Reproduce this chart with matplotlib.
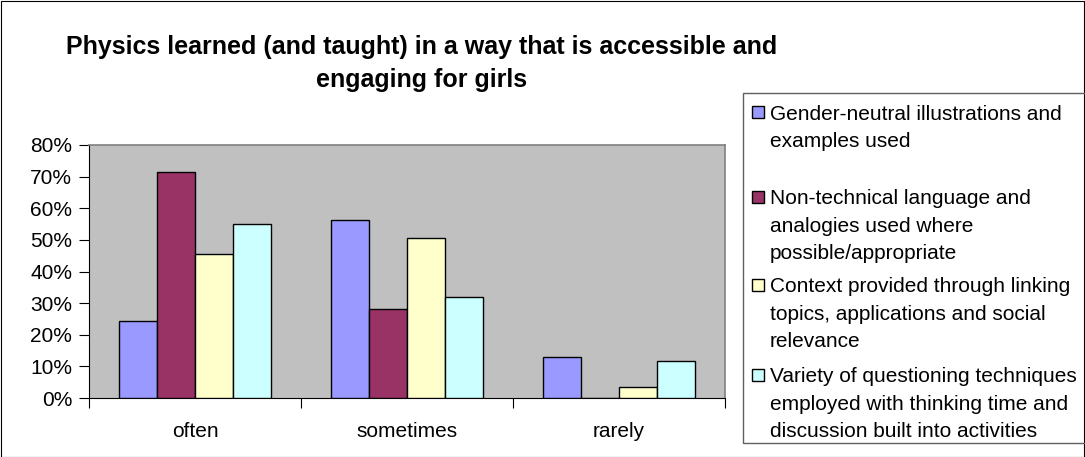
import matplotlib.pyplot as plt
import matplotlib.patches as mpatches
import numpy as np

plt.rcParams['font.family'] = ['Liberation Sans', 'DejaVu Sans']

categories = ["often", "sometimes", "rarely"]
series_names = [
    ["Gender-neutral illustrations and", "examples used"],
    ["Non-technical language and", "analogies used where", "possible/appropriate"],
    ["Context provided through linking", "topics, applications and social", "relevance"],
    ["Variety of questioning techniques", "employed with thinking time and",
     "discussion built into activities"],
]
gender_neutral = [24.5, 56.4, 13.1]
non_technical = [71.6, 28.2, 0.0]
context = [45.4, 50.7, 3.6]
questioning = [54.9, 31.9, 11.6]
y_ticks = [0, 10, 20, 30, 40, 50, 60, 70, 80]
colors = ["#9999FF", "#993366", "#FFFFCC", "#CCFFFF"]

W, H = 1085, 457
fig = plt.figure(figsize=(W / 100, H / 100), dpi=100)
fig.patch.set_facecolor("white")
# outer chart border
fig.patches.append(mpatches.Rectangle((0.5 / W, 0.5 / H), 1 - 1.5 / W, 1 - 1.5 / H,
                                      transform=fig.transFigure, fill=False,
                                      edgecolor="black", linewidth=0.8))

ax = fig.add_axes([89 / W, 1 - 398 / H, 636 / W, 253 / H])
ax.set_facecolor("#C0C0C0")

x = np.arange(len(categories))
bw = 0.18
all_series = [gender_neutral, non_technical, context, questioning]
for i, vals in enumerate(all_series):
    ax.bar(x + (i - 1.5) * bw, vals, bw, color=colors[i],
           edgecolor="black", linewidth=1.0, zorder=3)

ax.set_xlim(-0.5, 2.5)
ax.set_ylim(0, 80)
ax.set_yticks(y_ticks)
ax.set_yticklabels([f"{t}%" for t in y_ticks], fontsize=15)
ax.set_xticks([-0.5, 0.5, 1.5, 2.5])
ax.set_xticklabels([])
ax.set_xticks(x, minor=True)
ax.set_xticklabels(categories, minor=True, fontsize=15)
ax.tick_params(axis="x", which="minor", length=0, pad=17)
ax.tick_params(axis="x", which="major", length=7, direction="out")
ax.tick_params(axis="y", length=7, direction="out", pad=5)
for s in ["top", "right"]:
    ax.spines[s].set_color("#808080")
    ax.spines[s].set_linewidth(1.2)
for s in ["left", "bottom"]:
    ax.spines[s].set_color("black")

fig.text(422 / W, 1 - 47 / H,
         "Physics learned (and taught) in a way that is accessible and",
         ha="center", va="center", fontsize=18, fontweight="bold")
fig.text(422 / W, 1 - 80 / H, "engaging for girls",
         ha="center", va="center", fontsize=18, fontweight="bold")

# legend box, drawn by hand to match the uneven spacing
fig.patches.append(mpatches.Rectangle((743 / W, 1 - 443 / H), (W + 5 - 743) / W, 350 / H,
                                      transform=fig.transFigure, fill=False,
                                      edgecolor="#606060", linewidth=1.0, clip_on=False))
entry_tops = [112, 197, 285, 375]
pitch = 27.3
for i, lines in enumerate(series_names):
    y0 = entry_tops[i]
    fig.patches.append(mpatches.Rectangle((752 / W, 1 - (y0 + 6) / H), 12 / W, 12 / H,
                                          transform=fig.transFigure, facecolor=colors[i],
                                          edgecolor="black", linewidth=1.0))
    for j, line in enumerate(lines):
        fig.text(770 / W, 1 - (y0 + j * pitch) / H, line,
                 ha="left", va="center_baseline", fontsize=15)

fig.savefig("out.png", dpi=100)
